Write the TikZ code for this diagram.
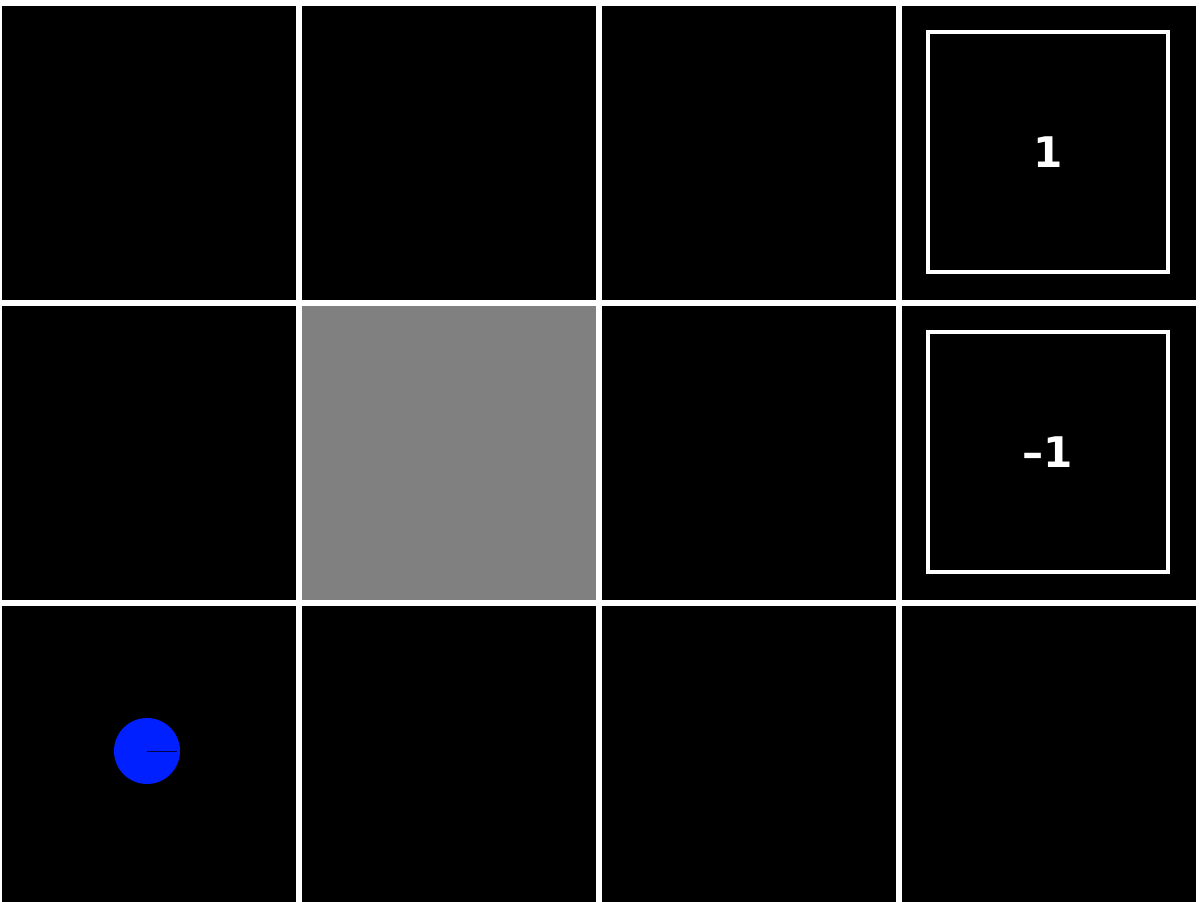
\documentclass[tikz,border=0pt]{standalone}
\usepackage{fontspec}
\setmainfont{DejaVu Sans}
\usepackage{xcolor}
\usepackage{tikz}
\definecolor{agentblue}{RGB}{0,32,255}
\definecolor{cellgray}{RGB}{128,128,128}

\begin{document}
\begin{tikzpicture}[x=0.02cm,y=-0.02cm,
    endbox/.style={draw=white,line width=0.07cm,minimum width=4.8cm,minimum height=4.8cm,
      inner sep=0pt,text=white,font=\fontsize{24}{28}\selectfont\bfseries}]
  \fill[white] (0,0) rectangle (1200,902);
  \foreach \c in {0,1,2,3}
    \foreach \r in {0,1,2}
      \fill[black] (\c*300+2,\r*300+6) rectangle (\c*300+296,\r*300+300);
  \foreach \c in {0,1,2,3}
    \fill[black] (\c*300+2,900) rectangle (\c*300+296,902);
  \fill[cellgray] (302,306) rectangle (596,600);
  \node[endbox] (goal) at (1048,152) {1};
  \node[endbox] (pit) at (1048,452) {–1};
  \fill[agentblue] (147,751) circle (33);
  \coordinate (agent) at (147,751);
  \coordinate (heading) at (177,751);
  \draw[black!70!blue,line width=0.02cm] (agent) -- (heading);
\end{tikzpicture}
\end{document}
